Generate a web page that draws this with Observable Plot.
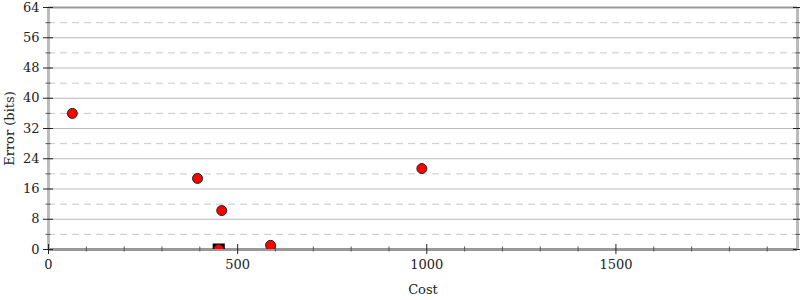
<!DOCTYPE html>
<html>
<head>
<meta charset="utf-8">
<script src="https://cdn.jsdelivr.net/npm/d3@7"></script>
<script src="https://cdn.jsdelivr.net/npm/@observablehq/plot@0.6"></script>
<style>
  html, body { margin: 0; padding: 0; background: #fff; }
  #chart svg, #chart svg text { font-family: "DejaVu Serif", serif !important; }
</style>
</head>
<body>
<div id="chart"></div>
<script>
// Data
const costs = [63, 394, 458, 450, 587, 987];
const errors = [36.0, 18.8, 10.3, 0.0, 1.1, 21.4];
const bestCost = [450];
const bestError = [0.0];

const yMajor = [0, 8, 16, 24, 32, 40, 48, 56, 64];
const yMinor = [4, 12, 20, 28, 36, 44, 52, 60];
const xMajor = [0, 500, 1000, 1500];
const xMinor = [100, 200, 300, 400, 600, 700, 800, 900, 1100, 1200, 1300, 1400, 1600, 1700, 1800, 1900];
const xDomain = [0, 1980];
const yDomain = [0, 64];

const points = costs.map((c, i) => ({cost: c, error: errors[i]}));
const best = bestCost.map((c, i) => ({cost: c, error: bestError[i]}));
const blank = () => "";
const FS = 13;
const FF = "DejaVu Serif";

const chart = Plot.plot({
  width: 800,
  height: 300,
  marginLeft: 48,
  marginRight: 3,
  marginTop: 7,
  marginBottom: 51,
  style: {fontFamily: FF, fontSize: FS + "px", background: "#fff", color: "#222"},
  x: {domain: xDomain},
  y: {domain: yDomain},
  marks: [
    Plot.ruleY(yMinor, {stroke: "#c8c8c8", strokeDasharray: "7,5"}),
    Plot.ruleY(yMajor.filter(d => d > 0 && d < 64), {stroke: "#bbb"}),
    Plot.ruleY([yDomain[1]], {stroke: "#999", strokeWidth: 2}),
    Plot.ruleX([xDomain[0]], {stroke: "#bbb", strokeWidth: 3}),
    Plot.ruleX([xDomain[1]], {stroke: "#bbb", strokeWidth: 3}),
    Plot.ruleY([yDomain[0]], {stroke: "#999", strokeWidth: 3}),
    // y axis labels
    Plot.axisY({ticks: yMajor, tickSize: 0, tickPadding: 9, tickFormat: "d", label: "Error (bits)", labelAnchor: "center", labelArrow: "none", labelOffset: 44, fill: "#222", fontSize: FS, fontFamily: FF}),
    // y ticks left
    Plot.axisY({ticks: yMajor, tickSize: 10, dx: 5, tickFormat: blank, label: null, stroke: "#222"}),
    Plot.axisY({ticks: yMinor, tickSize: 5, dx: 2.5, tickFormat: blank, label: null, stroke: "#555"}),
    // y ticks right
    Plot.axisY({anchor: "right", ticks: yMajor, tickSize: 10, dx: -5, tickFormat: blank, label: null, stroke: "#222"}),
    Plot.axisY({anchor: "right", ticks: yMinor, tickSize: 5, dx: -2.5, tickFormat: blank, label: null, stroke: "#555"}),
    // x axis labels
    Plot.axisX({ticks: xMajor, tickSize: 0, tickPadding: 10, tickFormat: "d", label: "Cost", labelAnchor: "center", labelArrow: "none", labelOffset: 44, fill: "#222", fontSize: FS, fontFamily: FF}),
    Plot.axisX({ticks: xMajor, tickSize: 10, dy: -5, tickFormat: blank, label: null, stroke: "#222"}),
    Plot.axisX({ticks: xMinor, tickSize: 5, dy: -2.5, tickFormat: blank, label: null, stroke: "#555"}),
    // points
    Plot.dot(best, {x: "cost", y: "error", symbol: "square", r: 6, fill: "#000", stroke: "#000", clip: "frame"}),
    Plot.dot(points, {x: "cost", y: "error", r: 5, fill: "#ff0000", stroke: "#222", strokeWidth: 1, clip: "frame"})
  ]
});
document.getElementById("chart").appendChild(chart);
</script>
</body>
</html>
